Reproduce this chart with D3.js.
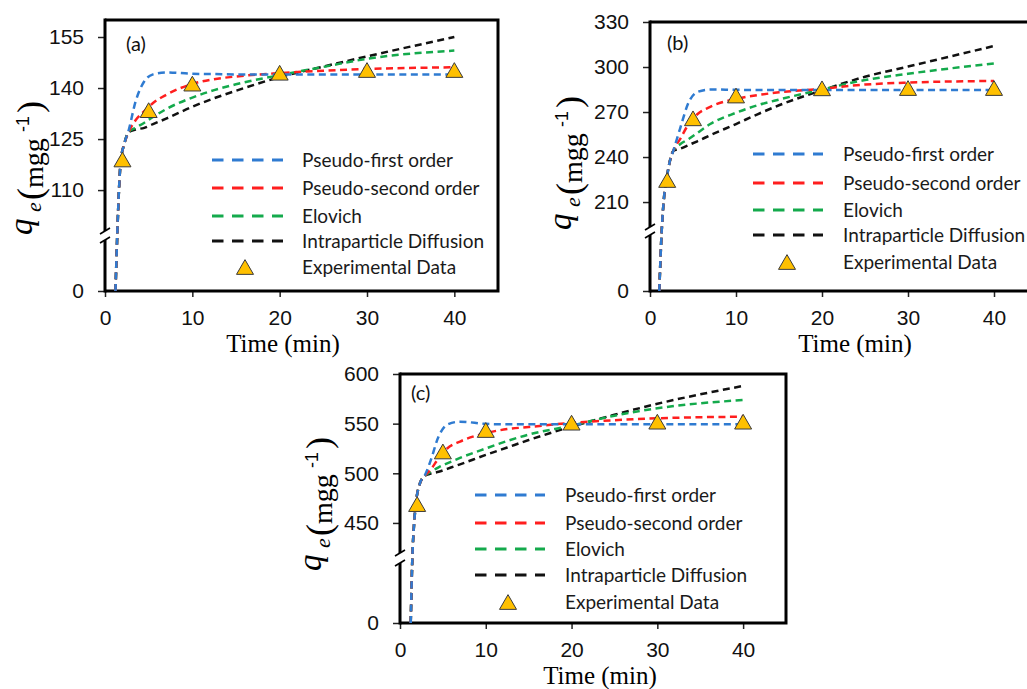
<!DOCTYPE html>
<html>
<head>
<meta charset="utf-8">
<script src="https://cdn.jsdelivr.net/npm/d3@7"></script>
<style>
  body { margin: 0; background: #fff; }
  svg { display: block; }
</style>
</head>
<body>
<svg id="fig" width="1027" height="689"></svg>
<script>
// Adsorption kinetics: four fitted models plus measured uptake, three panels.
const modelNames = ["Pseudo-first order", "Pseudo-second order", "Elovich", "Intraparticle Diffusion"];
const expLabel = "Experimental Data";
const expTime = [2, 5, 10, 20, 30, 40];
const xTicks = [0, 10, 20, 30, 40];

// Panel (a)
const timeA = [1.2, 1.4, 1.6, 1.8, 2.2, 2.7, 3.5, 4.5, 5.5, 7, 10, 12.5, 15, 20, 25, 30, 40];
const pfoA = [0, 96.5, 110, 118.5, 123.5, 127.5, 136, 142, 144, 144.6, 144.2, 144.1, 144, 144, 144, 144, 144];
const psoA = [0, 96.5, 110, 118.5, 123.5, 127, 130.5, 133.2, 135.6, 138, 141.2, 142.6, 143.4, 144.4, 145.1, 145.6, 146.1];
const elovichA = [0, 96.5, 110, 118.5, 123.5, 127, 128.3, 129.8, 131.5, 133.8, 137.2, 139.4, 141.1, 143.8, 146.2, 148.6, 151];
const ipdA = [0, 96.5, 110, 118.5, 123.5, 127, 127.8, 128.3, 129.4, 131, 134.5, 137, 139.2, 143.2, 146.3, 149.3, 155];
const expA = [119, 133.5, 141.3, 144.5, 145.3, 145.3];
const yTicksA = [0, 110, 125, 140, 155];

// Panel (b)
const timeB = [1.08, 1.36, 1.63, 2.0, 2.3, 2.7, 3.5, 4.5, 5.5, 7, 10, 12.5, 15, 20, 25, 30, 40];
const pfoB = [0, 190.7, 213, 228, 237, 244, 259, 276.5, 283.3, 285, 284.8, 284.7, 284.6, 284.6, 284.6, 284.6, 284.6];
const psoB = [0, 190.7, 213, 228, 237, 244, 252, 262, 268.5, 273.5, 278.8, 281.3, 283.1, 285.5, 288.3, 289.6, 290.7];
const elovichB = [0, 190.7, 213, 228, 237, 244, 248.5, 252, 256, 262, 269.5, 274.5, 278.3, 285, 291.3, 295.5, 302.4];
const ipdB = [0, 190.7, 213, 228, 237, 244, 245.5, 248, 250.5, 254.5, 262, 268.5, 274.5, 284.5, 293.5, 300.3, 314];
const expB = [224.7, 265.8, 281, 285.8, 286, 286];
const yTicksB = [0, 210, 240, 270, 300, 330];

// Panel (c)
const timeC = [1.25, 1.44, 1.65, 1.83, 2.33, 2.9, 3.5, 4.5, 5.5, 7, 10, 12.5, 15, 20, 25, 30, 40];
const pfoC = [0, 414.7, 450, 468, 490, 498, 511, 537, 549, 552, 549.8, 549.3, 549.3, 549.3, 549.3, 549.3, 549.3];
const psoC = [0, 414.7, 450, 468, 490, 497.5, 503, 515, 525, 532, 540.5, 544.5, 546.6, 550.8, 553.5, 555.4, 557];
const elovichC = [0, 414.7, 450, 468, 490, 497.5, 501, 506, 510, 515.5, 525, 532.5, 539, 548, 558, 565.5, 573.8];
const ipdC = [0, 414.7, 450, 468, 490, 497.5, 499.5, 501.5, 504.5, 509, 518.5, 526, 533.5, 547, 559, 570, 588];
const expC = [469, 522, 543.6, 551, 552, 552];
const yTicksC = [0, 450, 500, 550, 600];

const modelColors = ["#2F7BD1", "#FF1E1E", "#14AA4C", "#111111"];
const markerFill = "#FFC000";

// Layout of each panel: plot box, axis-break position and decorations.
const panels = [
  { tag: "(a)", time: timeA, models: [pfoA, psoA, elovichA, ipdA], exp: expA, yTicks: yTicksA,
    yDomain: [0, 96.5, 160], left: 105, right: 498, top: 20, bottom: 291, breakMid: 236, breakY: [231, 240],
    tagPos: [126, 51], legend: { x0: 212, x1: 283, tx: 302, rows: [160, 188, 216, 241, 267], tri: 245 },
    xTitle: [283, 352], yTitle: [0, 0] },
  { tag: "(b)", time: timeB, models: [pfoB, psoB, elovichB, ipdB], exp: expB, yTicks: yTicksB,
    yDomain: [0, 190.7, 330], left: 650, right: 1037, top: 22, bottom: 291, breakMid: 231, breakY: [227, 235],
    tagPos: [667, 50], legend: { x0: 753, x1: 823, tx: 843, rows: [154, 183, 210, 235, 262], tri: 787 },
    xTitle: [855, 352], yTitle: [539, -5] },
  { tag: "(c)", time: timeC, models: [pfoC, psoC, elovichC, ipdC], exp: expC, yTicks: yTicksC,
    yDomain: [0, 414.7, 600], left: 400, right: 786, top: 374, bottom: 623, breakMid: 558, breakY: [553, 563],
    tagPos: [411, 400], legend: { x0: 475, x1: 545, tx: 565, rows: [495, 523, 549, 575, 602], tri: 508 },
    xTitle: [600, 684], yTitle: [289, 336] }
];

// Upward triangle centred on its bounding box.
const triangleSymbol = {
  draw(ctx, size) {
    const s = Math.sqrt(size * 4 / Math.sqrt(3));
    const h = s * Math.sqrt(3) / 2;
    ctx.moveTo(0, -h / 2);
    ctx.lineTo(s / 2, h / 2);
    ctx.lineTo(-s / 2, h / 2);
    ctx.closePath();
  }
};
const triSize = 17 * 17 * Math.sqrt(3) / 4;
const tri = d3.symbol().type(triangleSymbol).size(triSize);

const svg = d3.select("#fig");
svg.append("rect").attr("width", 1027).attr("height", 689).attr("fill", "#fff");

function drawYTitle(g, dx, dy) {
  // rotated label q_e (mgg^-1), pieces placed along the vertical
  const t = g.append("g").attr("transform", `translate(${dx},${dy}) rotate(-90)`).attr("fill", "#000");
  const serif = "Liberation Serif";
  t.append("text").attr("x", -235).attr("y", 32)
    .attr("font-family", serif).attr("font-style", "italic").attr("font-size", 33).text("q");
  t.append("text").attr("x", -212).attr("y", 41)
    .attr("font-family", serif).attr("font-style", "italic").attr("font-size", 22).text("e");
  t.append("text").attr("x", -200).attr("y", 42)
    .attr("font-family", serif).attr("font-size", 36).text("(");
  t.append("text").attr("x", -188).attr("y", 43)
    .attr("font-family", serif).attr("font-size", 28).text("mgg");
  t.append("text").attr("x", -132).attr("y", 29)
    .attr("font-family", "Liberation Sans").attr("font-size", 18).text("-1");
  t.append("text").attr("x", -113).attr("y", 42)
    .attr("font-family", serif).attr("font-size", 36).text(")");
}

panels.forEach(p => {
  const g = svg.append("g");
  const x = d3.scaleLinear().domain([0, 45]).range([p.left, p.right]);
  const y = d3.scaleLinear().domain(p.yDomain).range([p.bottom, p.breakMid, p.top]);

  // y axis ticks and labels
  const ya = g.append("g").attr("transform", `translate(${p.left},0)`)
    .call(d3.axisLeft(y).tickValues(p.yTicks).tickSize(7).tickPadding(14));
  ya.select(".domain").remove();
  ya.attr("font-family", "Liberation Sans").attr("font-size", 21);
  ya.selectAll(".tick line").attr("stroke", "#222").attr("stroke-width", 1.5);
  ya.selectAll(".tick text").attr("fill", "#111");

  // x axis ticks and labels
  const xa = g.append("g").attr("transform", `translate(0,${p.bottom})`)
    .call(d3.axisBottom(x).tickValues(xTicks).tickSize(6).tickPadding(13));
  xa.select(".domain").remove();
  xa.attr("font-family", "Liberation Sans").attr("font-size", 21);
  xa.selectAll(".tick line").attr("stroke", "#222").attr("stroke-width", 1.5);
  xa.selectAll(".tick text").attr("fill", "#111");

  // plot frame: top, right, bottom, then broken left axis
  g.append("path")
    .attr("d", `M${p.left},${p.top}H${p.right}V${p.bottom}H${p.left}`)
    .attr("fill", "none").attr("stroke", "#000").attr("stroke-width", 3);
  g.append("path")
    .attr("d", `M${p.left},${p.top - 1.5}V${p.breakY[0]}M${p.left},${p.breakY[1]}V${p.bottom + 1.5}`)
    .attr("fill", "none").attr("stroke", "#000").attr("stroke-width", 3);
  p.breakY.forEach(by => {
    g.append("line")
      .attr("x1", p.left - 5).attr("y1", by + 3).attr("x2", p.left + 5).attr("y2", by - 3)
      .attr("stroke", "#000").attr("stroke-width", 1.6);
  });

  // fitted model curves
  const line = d3.line()
    .x((d, i) => x(p.time[i]))
    .y(d => y(d))
    .curve(d3.curveMonotoneX);
  [3, 2, 1, 0].forEach(k => {
    g.append("path").datum(p.models[k])
      .attr("d", line)
      .attr("fill", "none")
      .attr("stroke", modelColors[k])
      .attr("stroke-width", 2.5)
      .attr("stroke-dasharray", "7,4.5");
  });

  // measured points
  g.selectAll(".pt").data(p.exp).enter().append("path")
    .attr("transform", (d, i) => `translate(${x(expTime[i])},${y(d)})`)
    .attr("d", tri)
    .attr("fill", markerFill)
    .attr("stroke", "#3a3a3a")
    .attr("stroke-width", 1);

  // panel tag
  g.append("text").attr("x", p.tagPos[0]).attr("y", p.tagPos[1])
    .attr("font-family", "Lato").attr("font-size", 20).attr("fill", "#111").text(p.tag);

  // legend
  const L = p.legend;
  modelNames.forEach((name, k) => {
    g.append("line")
      .attr("x1", L.x0).attr("x2", L.x1).attr("y1", L.rows[k]).attr("y2", L.rows[k])
      .attr("stroke", modelColors[k]).attr("stroke-width", 3)
      .attr("stroke-dasharray", "11.5,8.5");
    g.append("text").attr("x", L.tx).attr("y", L.rows[k] + 7)
      .attr("font-family", "Lato").attr("font-size", 19).attr("fill", "#1a1a1a").text(name);
  });
  g.append("path")
    .attr("transform", `translate(${L.tri},${L.rows[4]})`)
    .attr("d", tri).attr("fill", markerFill).attr("stroke", "#3a3a3a").attr("stroke-width", 1);
  g.append("text").attr("x", L.tx).attr("y", L.rows[4] + 7)
    .attr("font-family", "Lato").attr("font-size", 19).attr("fill", "#1a1a1a").text(expLabel);

  // axis titles
  g.append("text").attr("x", p.xTitle[0]).attr("y", p.xTitle[1])
    .attr("text-anchor", "middle")
    .attr("font-family", "Liberation Serif").attr("font-size", 25).attr("fill", "#000")
    .text("Time (min)");
  drawYTitle(g, p.yTitle[0], p.yTitle[1]);
});
</script>
</body>
</html>
